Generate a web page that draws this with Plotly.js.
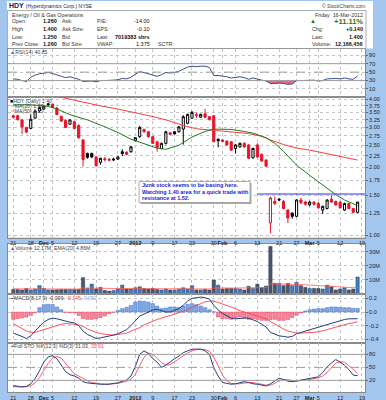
<!DOCTYPE html>
<html><head><meta charset="utf-8">
<script src="https://cdn.plot.ly/plotly-3.0.1.min.js"></script>
<style>html,body{margin:0;padding:0;background:#a3c6ef;}#chart{width:386px;height:400px;}</style>
</head><body><div id="chart"></div>
<script>
// ---- data ----
const days = ['11-21','11-22','11-23','11-25','11-28','11-29','11-30','12-01','12-02','12-05','12-06','12-07','12-08','12-09','12-12','12-13','12-14','12-15','12-16','12-19','12-20','12-21','12-22','12-23','12-27','12-28','12-29','12-30','01-03','01-04','01-05','01-06','01-09','01-10','01-11','01-12','01-13','01-17','01-18','01-19','01-20','01-23','01-24','01-25','01-26','01-27','01-30','01-31','02-01','02-02','02-03','02-06','02-07','02-08','02-09','02-10','02-13','02-14','02-15','02-16','02-17','02-21','02-22','02-23','02-24','02-27','02-28','02-29','03-01','03-02','03-05','03-06','03-07','03-08','03-09','03-12','03-13','03-14','03-15','03-16'];
const open  = [3.38,3.38,3.24,3.00,2.97,3.30,3.55,3.62,3.82,3.80,3.66,3.36,3.22,3.10,3.18,3.06,2.64,2.30,2.30,2.22,2.10,2.18,2.16,2.15,2.17,2.34,2.33,2.34,2.62,2.73,2.94,2.87,2.73,2.59,2.42,2.55,2.84,2.87,2.87,2.95,3.13,3.30,3.42,3.33,3.45,3.35,3.38,2.66,2.64,2.61,2.59,2.42,2.46,2.55,2.51,2.20,2.51,2.28,2.15,1.13,1.41,1.44,1.41,1.29,1.25,1.21,1.43,1.40,1.36,1.40,1.38,1.29,1.31,1.44,1.41,1.40,1.29,1.38,1.31,1.26];
const high  = [3.42,3.42,3.26,3.02,3.43,3.58,3.72,3.76,3.85,3.83,3.70,3.38,3.26,3.26,3.22,3.10,2.66,2.32,2.32,2.24,2.20,2.22,2.20,2.20,2.23,2.40,2.35,2.48,2.72,3.05,2.96,2.90,2.75,2.62,2.57,2.90,2.86,2.89,3.04,3.40,3.45,3.55,3.50,3.45,3.62,3.37,3.40,2.68,2.66,2.63,2.61,2.53,2.57,2.58,2.53,2.44,2.55,2.30,2.17,1.48,1.48,1.46,1.43,1.30,1.26,1.44,1.46,1.42,1.42,1.41,1.40,1.35,1.44,1.50,1.42,1.41,1.39,1.39,1.32,1.40];
const low   = [3.28,3.22,2.80,2.83,2.95,3.28,3.50,3.60,3.74,3.66,3.40,3.18,2.98,3.08,2.95,2.68,2.01,2.18,2.19,2.01,2.05,2.12,2.12,2.13,2.15,2.24,2.26,2.32,2.60,2.70,2.85,2.70,2.53,2.34,2.40,2.52,2.78,2.79,2.85,2.52,3.10,3.28,3.30,3.30,3.30,3.22,2.57,2.45,2.58,2.49,2.36,2.30,2.44,2.44,2.17,2.18,2.20,2.11,2.00,1.02,1.36,1.42,1.30,1.13,1.18,1.20,1.37,1.35,1.34,1.35,1.31,1.24,1.30,1.39,1.35,1.31,1.28,1.30,1.25,1.25];
const close = [3.33,3.25,3.02,2.86,3.26,3.55,3.68,3.73,3.78,3.68,3.42,3.20,3.00,3.24,2.97,2.70,2.16,2.21,2.22,2.03,2.19,2.16,2.15,2.17,2.22,2.30,2.28,2.46,2.70,3.00,2.87,2.73,2.55,2.44,2.55,2.87,2.80,2.81,3.02,3.35,3.43,3.50,3.39,3.43,3.33,3.25,2.60,2.62,2.60,2.51,2.38,2.51,2.55,2.46,2.19,2.42,2.22,2.13,2.02,1.46,1.38,1.43,1.31,1.19,1.21,1.43,1.39,1.37,1.40,1.37,1.32,1.34,1.43,1.40,1.36,1.32,1.38,1.31,1.26,1.40];
const volumeM = [3.3,3.3,2.9,4.0,2.9,3.6,6.0,4.0,2.9,2.9,3.1,3.3,3.3,3.3,3.3,3.3,11.7,4.0,7.1,3.6,4.8,2.6,2.1,2.6,3.6,6.4,3.6,3.6,4.5,5.2,4.0,3.6,4.0,3.3,2.9,3.6,2.9,2.9,3.6,4.5,3.6,6.0,2.9,2.9,3.3,2.9,10.0,6.4,3.6,4.0,4.0,4.0,3.6,2.9,5.5,4.0,7.1,4.5,5.7,34.0,7.6,7.6,6.0,7.6,6.0,8.3,6.0,4.8,4.0,4.0,4.0,3.6,6.4,5.2,2.9,3.6,4.5,2.9,3.6,12.17];
const volEmaM = [3.7,3.7,3.6,3.6,3.6,3.6,3.8,3.8,3.7,3.6,3.6,3.6,3.5,3.5,3.5,3.5,4.3,4.3,4.5,4.4,4.4,4.2,4.0,3.9,3.9,4.1,4.1,4.0,4.0,4.1,4.1,4.0,4.0,3.9,3.8,3.8,3.7,3.6,3.6,3.7,3.7,3.9,3.8,3.7,3.6,3.6,4.2,4.4,4.3,4.3,4.2,4.2,4.2,4.1,4.2,4.2,4.5,4.5,4.6,7.2,7.2,7.1,7.0,7.0,6.9,6.9,6.8,6.6,6.4,6.1,5.9,5.7,5.6,5.4,5.1,4.9,4.8,4.6,4.5,4.86];
const ma20Idx = [0,4,8,10,13,17,21,24,27,30,33,35,38,41,44,46,50,53,55,58,60,62,65,68,70,72,74,76,78,79];
const ma20Val = [3.78,3.78,3.72,3.62,3.42,3.24,3.02,2.85,2.66,2.54,2.43,2.40,2.50,2.72,2.88,2.95,2.94,2.88,2.83,2.70,2.55,2.35,2.04,1.84,1.72,1.61,1.51,1.43,1.37,1.35];
const ma50Idx = [0,4,8,11,14,17,20,24,27,30,33,36,39,42,45,48,51,54,57,59,62,65,68,71,74,77,79];
const ma50Val = [4.45,4.35,4.20,4.08,3.95,3.85,3.74,3.62,3.52,3.43,3.32,3.20,3.06,2.96,2.93,2.90,2.86,2.82,2.74,2.64,2.52,2.43,2.38,2.32,2.26,2.19,2.15];
const resistance = 1.52, resistanceFrom = 56;
const rsi = [34,33,30,28,38,43,46,47,49,47,43,40,37,39,36,33,28,29,29,27,30,30,30,31,32,35,34,38,45,51,49,46,42,40,44,49,48,49,52,58,62,64,63,64,64,61,42,42,41,39,36,38,39,37,33,36,33,31,29,23,23,24,23,21,22,30,30,30,31,31,29,30,34,35,35,34,36,34,33,40.85];
const macd = [-0.31,-0.33,-0.36,-0.39,-0.35,-0.28,-0.21,-0.15,-0.11,-0.09,-0.10,-0.12,-0.14,-0.15,-0.16,-0.20,-0.28,-0.33,-0.36,-0.39,-0.38,-0.37,-0.36,-0.34,-0.32,-0.29,-0.26,-0.20,-0.13,-0.06,-0.03,0.00,0.03,0.04,0.02,0.00,0.00,0.02,0.05,0.10,0.16,0.20,0.21,0.22,0.21,0.19,0.10,0.03,-0.02,-0.06,-0.09,-0.10,-0.09,-0.09,-0.09,-0.11,-0.14,-0.18,-0.22,-0.30,-0.33,-0.35,-0.36,-0.37,-0.36,-0.32,-0.30,-0.28,-0.26,-0.24,-0.23,-0.21,-0.19,-0.17,-0.15,-0.13,-0.11,-0.10,-0.10,-0.099];
const signal = [-0.17,-0.21,-0.25,-0.28,-0.30,-0.30,-0.28,-0.26,-0.24,-0.21,-0.19,-0.18,-0.17,-0.17,-0.18,-0.19,-0.21,-0.25,-0.28,-0.30,-0.32,-0.33,-0.34,-0.34,-0.33,-0.32,-0.31,-0.28,-0.26,-0.23,-0.19,-0.16,-0.13,-0.11,-0.09,-0.07,-0.05,-0.04,-0.02,0.01,0.04,0.07,0.10,0.13,0.15,0.16,0.16,0.14,0.12,0.10,0.07,0.05,0.02,0.00,-0.02,-0.04,-0.06,-0.08,-0.10,-0.14,-0.18,-0.22,-0.25,-0.28,-0.30,-0.31,-0.31,-0.31,-0.31,-0.30,-0.29,-0.28,-0.26,-0.24,-0.22,-0.20,-0.19,-0.17,-0.16,-0.145];
const hist = [-0.108,-0.098,-0.088,-0.074,-0.049,-0.010,0.064,0.108,0.113,0.113,0.074,0.034,-0.005,-0.010,-0.010,-0.050,-0.098,-0.108,-0.108,-0.098,-0.083,-0.059,-0.025,-0.005,0.025,0.049,0.069,0.098,0.147,0.162,0.157,0.147,0.123,0.088,0.049,0.059,0.074,0.074,0.064,0.088,0.113,0.123,0.108,0.088,0.064,0.034,0.003,-0.074,-0.098,-0.098,-0.108,-0.088,-0.074,-0.088,-0.108,-0.098,-0.108,-0.123,-0.123,-0.113,-0.108,-0.123,-0.123,-0.113,-0.083,-0.049,-0.015,0.015,0.034,0.044,0.049,0.049,0.064,0.074,0.074,0.069,0.064,0.064,0.054,0.052];
const stoK = [7,5,5,6,12,24,42,62,74,77,70,55,40,33,30,25,17,14,13,11,11,11,11,13,14,18,21,30,52,80,88,82,70,62,50,55,63,70,76,84,88,92,92,92,88,80,49,30,15,13,11,12,14,17,15,12,11,9,7,12,19,25,22,18,17,19,21,22,24,26,28,38,51,60,68,62,55,45,32,31.03];
const stoD = [9,7,5,5,8,14,26,43,59,71,75,71,59,46,35,30,24,19,15,13,12,11,11,12,13,15,18,23,34,54,73,83,80,71,61,56,56,63,70,77,83,88,91,92,91,87,73,54,32,19,13,12,12,14,15,15,13,11,9,9,13,19,22,22,19,18,19,21,22,24,26,30,38,49,60,63,62,54,44,35.91];
const tickIdx  = [0,4,7,9,14,19,24,28,32,37,41,46,48,51,56,61,65,68,70,75,80];
const tickText = ['21','28','<b>Dec</b>','5','12','19','27','<b>2012</b>','9','17','23','30','<b>Feb</b>','6','13','21','27','<b>Mar</b>','5','12','19'];
const priceTicks = [1,1.25,1.5,1.75,2,2.25,2.5,2.75,3,3.25,3.5,3.75,4];

// ---- build ----
const W=386,H=400,L=8,R=21;
const PX=x=>(x-L)/(W-L-R), PY=y=>1-y/H;
const FONT='Liberation Sans, Arial, sans-serif';
const idx = close.map((_,i)=>i);
const isUp = close.map((c,i)=> i>0 && c>=close[i-1]);
const pick=(a,f)=>a.filter((_,i)=>isUp[i]===f);
const RED='#e8142a', BLK='#000';
const traces=[];
// RSI
traces.push({x:idx,y:rsi.map(()=>30),type:'scatter',mode:'lines',line:{width:0},xaxis:'x',yaxis:'y',hoverinfo:'skip'});
traces.push({x:idx,y:rsi.map(v=>Math.min(v,30)),type:'scatter',mode:'lines',line:{width:0},fill:'tonexty',fillcolor:'#f0658a',xaxis:'x',yaxis:'y',hoverinfo:'skip'});
traces.push({x:idx,y:rsi,type:'scatter',mode:'lines',line:{color:'#3b4f8a',width:1},xaxis:'x',yaxis:'y'});
// price
traces.push({x:ma50Idx,y:ma50Val,type:'scatter',mode:'lines',line:{color:'#ff3b3b',width:1},xaxis:'x2',yaxis:'y2'});
traces.push({x:ma20Idx,y:ma20Val,type:'scatter',mode:'lines',line:{color:'#1f7a1f',width:1},xaxis:'x2',yaxis:'y2'});
[[true,BLK,'#000'],[false,RED,RED]].forEach(([f,col,fill])=>{
  traces.push({type:'candlestick',x:pick(idx,f),open:pick(open,f),high:pick(high,f),low:pick(low,f),close:pick(close,f),
    xaxis:'x2',yaxis:'y2',whiskerwidth:0,
    increasing:{line:{color:col,width:1},fillcolor:'#ffffff'},
    decreasing:{line:{color:col,width:1},fillcolor:fill},hoverinfo:'skip'});
});
// volume
traces.push({x:idx,y:volumeM,type:'bar',width:0.78,marker:{color:isUp.map(u=>u?'#3b7cc4':'#4c556e'),line:{color:'#2a3040',width:0.4}},xaxis:'x',yaxis:'y3'});
traces.push({x:idx,y:volEmaM,type:'scatter',mode:'lines',line:{color:'#ff5a5a',width:0.8},xaxis:'x',yaxis:'y3'});
// MACD
traces.push({x:idx,y:hist,type:'bar',width:0.78,marker:{color:hist.map(v=>v>=0?'#7ea8e8':'#f5889a'),line:{color:hist.map(v=>v>=0?'#3f6fc0':'#e04060'),width:0.5}},xaxis:'x',yaxis:'y4'});
traces.push({x:idx,y:signal,type:'scatter',mode:'lines',line:{color:'#ff4050',width:0.9},xaxis:'x',yaxis:'y4'});
traces.push({x:idx,y:macd,type:'scatter',mode:'lines',line:{color:'#1f3f7f',width:1},xaxis:'x',yaxis:'y4'});
// STO
traces.push({x:idx,y:stoD,type:'scatter',mode:'lines',line:{color:'#ff4a5a',width:0.9},xaxis:'x',yaxis:'y5'});
traces.push({x:idx,y:stoK,type:'scatter',mode:'lines',line:{color:'#1f3f7f',width:1},xaxis:'x',yaxis:'y5'});

const tf={size:5.5,color:'#222',family:FONT};
const xcommon={range:[-1.22,80.7],tickmode:'array',tickvals:tickIdx,ticktext:tickText,tickangle:0,showgrid:true,gridcolor:'#c4c4c4',griddash:'dot',gridwidth:1,
  zeroline:false,ticks:'',tickfont:tf,showline:true,linecolor:'#8a8a8a',linewidth:1,fixedrange:true,automargin:false,ticklabelstandoff:0};
const ycommon={side:'right',showgrid:true,gridcolor:'#c4c4c4',griddash:'dot',zeroline:false,ticks:'outside',ticklen:2,tickcolor:'#666',
  tickfont:tf,showline:true,mirror:true,linecolor:'#8a8a8a',linewidth:1,fixedrange:true,automargin:false};
const dom=(t,b)=>[1-b/H,1-t/H];

const layout={width:W,height:H,margin:{l:L,r:R,t:0,b:0},paper_bgcolor:'#a3c6ef',plot_bgcolor:'#ffffff',showlegend:false,
  font:{family:FONT},bargap:0,
  xaxis:Object.assign({},xcommon,{anchor:'y5',domain:[0,1],mirror:'all'}),
  xaxis2:Object.assign({},xcommon,{anchor:'y2',domain:[0,1],mirror:true,rangeslider:{visible:false}}),
  yaxis:Object.assign({},ycommon,{domain:dom(48.5,97),range:[-9,106],tickvals:[10,30,50,70,90]}),
  yaxis2:Object.assign({},ycommon,{domain:dom(97,237.5),type:'log',range:[-0.0111,0.6122],tickvals:priceTicks,ticktext:priceTicks.map(v=>v.toFixed(2))}),
  yaxis3:Object.assign({},ycommon,{domain:dom(244,294),range:[0,35.7],tickvals:[10,20,30],ticktext:['10M','20M','30M']}),
  yaxis4:Object.assign({},ycommon,{domain:dom(294,343),range:[-0.456,0.265],tickvals:[-0.4,-0.2,0,0.2],ticktext:['-0.4','-0.2','0.0','0.2']}),
  yaxis5:Object.assign({},ycommon,{domain:dom(343,392),range:[-6.9,106.2],tickvals:[20,50,80]}),
  shapes:[], annotations:[]};

const S=layout.shapes;
S.push({type:'rect',xref:'paper',yref:'paper',x0:PX(7),x1:PX(373),y0:PY(48.5),y1:PY(1),fillcolor:'#ffffff',line:{width:0},layer:'below'});
S.push({type:'rect',xref:'paper',yref:'paper',x0:PX(7.5),x1:PX(366),y0:PY(48.5),y1:PY(10.5),line:{color:'#9a9a9a',width:0.8}});
[[70,'solid'],[30,'solid'],[50,'dash']].forEach(([v,d])=>S.push({type:'line',xref:'paper',yref:'y',x0:0,x1:1,y0:v,y1:v,line:{color:'#a0a0a0',width:1,dash:d}}));
[[80,'solid'],[20,'solid'],[50,'dash']].forEach(([v,d])=>S.push({type:'line',xref:'paper',yref:'y5',x0:0,x1:1,y0:v,y1:v,line:{color:'#a0a0a0',width:1,dash:d}}));
S.push({type:'line',xref:'x2',yref:'y2',x0:resistanceFrom,x1:80.7,y0:resistance,y1:resistance,line:{color:'#3030e6',width:1.2}});
S.push({type:'rect',xref:'paper',yref:'paper',x0:PX(140.5),x1:PX(251.5),y0:PY(204),y1:PY(183),fillcolor:'#a8a8a8',line:{width:0},layer:'above'});
S.push({type:'rect',xref:'paper',yref:'paper',x0:PX(139),x1:PX(250),y0:PY(202.5),y1:PY(181.5),fillcolor:'#ffffff',line:{color:'#9a9a9a',width:0.8},layer:'above'});

const A=layout.annotations;
function T(text,x,y,o={}){A.push({xref:'paper',yref:'paper',x:PX(x),y:PY(y),text,showarrow:false,xanchor:o.xa||'left',yanchor:'middle',
  borderpad:0,font:{size:o.s||5.3,color:o.c||'#333',family:FONT}});}
T('<b>HDY</b> <span style="font-size:5px">(Hyperdynamics Corp.) NYSE</span>',7.5,5.5,{s:7,c:'#1a1a50'});
T('© StockCharts.com',366,5.5,{xa:'right',s:5,c:'#444'});
T('Energy / Oil & Gas Operations',10.5,14.5);
T('Friday  16-Mar-2012',364,14.5,{xa:'right'});
const rows=[21.2,29,36.7,44.2];
['Open:','High:','Low:','Prev Close:'].forEach((t,i)=>T(t,10.5,rows[i]));
['1.260','1.400','1.250','1.260'].forEach((t,i)=>T('<b>'+t+'</b>',57.5,rows[i],{xa:'right',c:'#111',s:5.5}));
['Ask:','Ask Size:','Bid:','Bid Size:'].forEach((t,i)=>T(t,60.5,rows[i]));
['P/E:','EPS:','Last:','VWAP:'].forEach((t,i)=>T(t,95.5,rows[i]));
['-14.00','-0.10','7019383 shrs','1.375'].forEach((t,i)=>T(i===2?'<b>'+t+'</b>':t,150.5,rows[i],{xa:'right',c:'#111',s:5.5}));
T('SCTR:',156.5,rows[3]);
T('▲',313,rows[0],{xa:'center',c:'#1e7a1e',s:6});
T('<b>+11.11%</b>',364,rows[0],{xa:'right',c:'#1e7a1e',s:7.5});
['Chg:','Last:','Volume:'].forEach((t,i)=>T(t,310.5,rows[i+1]));
['+0.140','1.400','12,166,456'].forEach((t,i)=>T('<b>'+t+'</b>',364,rows[i+1],{xa:'right',c:'#111',s:5.5}));
// panel legends
T('<span style="color:#3a5fcd">▲</span>RSI(14) 40.85',9,52.3,{c:'#444',s:5.2});
T('<span style="color:#000">■</span>HDY (Daily) 1.40',9,100.6,{c:'#444',s:5.2});
T('<span style="color:#1f7a1f">═</span>MA(20) 1.38',9,105.6,{c:'#444',s:5.2});
T('<span style="color:#ff3b3b">═</span>MA(50) 2.15',9,110.7,{c:'#444',s:5.2});
T('<span style="color:#3a5fcd">▲</span>Volume 12.17M, EMA(20) 4.86M',9,248,{c:'#444',s:5.2});
T('<span style="color:#1f3f7f">━</span>MACD(8,17,9) -0.099, <span style="color:#ff4050">-0.145</span>, <span style="color:#7ea8e8">0.052</span>',9,297.8,{c:'#444',s:5.2});
T('<span style="color:#1f3f7f">━</span>Full STO %K(12,3) %D(3) 31.03, <span style="color:#ff4a5a">35.91</span>',9,345.8,{c:'#444',s:5.2});
// note
['Junk stock seems to be basing here.','Watching 1.40 area for a quick trade with','resistance at 1.52.'].forEach((t,i)=>T('<b>'+t+'</b>',140.5,185.3+i*6.4,{c:'#1c1cd0',s:5.5}));

Plotly.newPlot('chart',traces,layout,{displayModeBar:false,staticPlot:true});
</script></body></html>
